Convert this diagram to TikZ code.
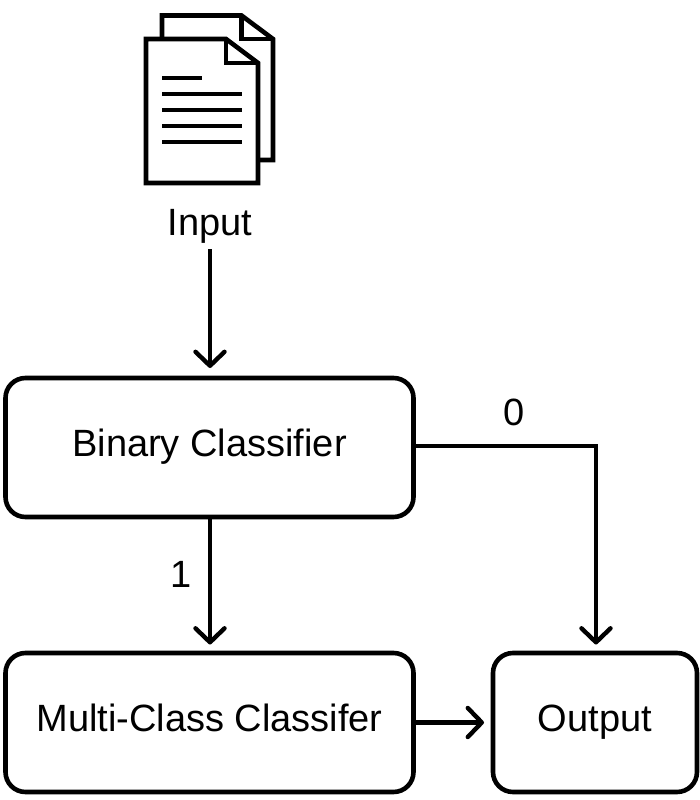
\documentclass[tikz,border=0pt]{standalone}
\usepackage{fontspec}
\setmainfont{Liberation Sans}
\usetikzlibrary{arrows.meta}
\tikzset{
  box/.style={draw=black,line width=4.6pt,rounded corners=20pt,outer sep=0pt,inner sep=0pt,font=\fontsize{38}{44}\selectfont,text height=18pt,text depth=0pt,anchor=north west},
  lab/.style={font=\fontsize{38}{44}\selectfont,inner sep=0pt,outer sep=0pt,anchor=base},
  conn/.style={line width=4.4pt,-{Straight Barb[length=14pt,width=29pt,line width=4.4pt,round]}},
  doc/.style={line width=4.6pt,miter limit=10},
  txt/.style={line width=4pt}
}
\begin{document}
\begin{tikzpicture}[x=1pt,y=-1pt]
\useasboundingbox (0,0) rectangle (700,800);
% back page
\draw[doc] (162,39) -- (162,15.5) -- (241.5,15.5) -- (273,39) -- (273,160) -- (258,160);
\draw[doc] (241.5,15.5) -- (241.5,39) -- (273,39);
% front page
\draw[doc,fill=white] (146,39) -- (226,39) -- (258,63) -- (258,183) -- (146,183) -- cycle;
\draw[doc] (226,39) -- (226,63) -- (258,63);
\draw[txt] (162,77.5) -- (202,77.5);
\draw[txt] (162,93.5) -- (242,93.5);
\draw[txt] (162,109.5) -- (242,109.5);
\draw[txt] (162,125.5) -- (242,125.5);
\draw[txt] (162,141.5) -- (242,141.5);
\node[lab] (input) at (210,235) {Input};
\node[box,minimum width=408pt,minimum height=139pt] (binary) at (5.5,378) {Binary Classifier};
\node[box,minimum width=408pt,minimum height=139pt] (multi) at (5.5,653) {Multi-Class Classifer};
\node[box,minimum width=204pt,minimum height=139pt] (output) at (493,653) {Output};
\node[lab] (zero) at (514.5,425) {0};
\node[lab] (one) at (181.5,587) {1};
\coordinate (a) at (210,249);
\coordinate (b) at (210,368);
\draw[conn] (a) -- (b);
\coordinate (c) at (210,644.5);
\draw[conn] (binary.south -| c) -- (c);
\coordinate (d) at (596,644.5);
\draw[conn] ([yshift=1.5pt]binary.east) -- ([yshift=1.5pt]binary.east -| d) -- (d);
\coordinate (e) at (484,722.5);
\draw[conn] (multi.east) -- (e);
\end{tikzpicture}
\end{document}
